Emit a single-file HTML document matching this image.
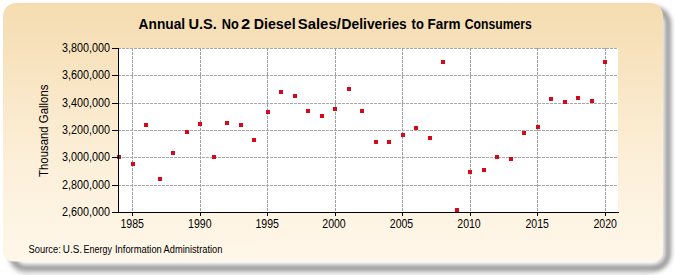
<!DOCTYPE html>
<html><head><meta charset="utf-8"><style>
html,body{margin:0;padding:0;background:#fff;width:675px;height:275px;overflow:hidden}
svg{display:block}
.t{font-family:"Liberation Sans",sans-serif;font-size:12px;fill:#000}
.title{font-family:"Liberation Sans",sans-serif;font-size:14.5px;font-weight:bold;fill:#000}
.src{font-family:"Liberation Sans",sans-serif;font-size:10px;fill:#000}
</style></head><body>
<svg width="675" height="275" viewBox="0 0 675 275">
<defs>
<linearGradient id="bg" x1="0" y1="0" x2="0" y2="1">
<stop offset="0" stop-color="#f5dcb0"/>
<stop offset="0.6" stop-color="#fcefd8"/>
<stop offset="1" stop-color="#fff7ea"/>
</linearGradient>
<filter id="sh" x="-10%" y="-10%" width="120%" height="130%">
<feGaussianBlur stdDeviation="2.5"/>
</filter>
<filter id="sh2" x="-10%" y="-10%" width="120%" height="130%"><feGaussianBlur stdDeviation="2"/></filter>
<filter id="soft" x="-2%" y="-2%" width="104%" height="104%"><feGaussianBlur stdDeviation="0.5"/></filter>
<clipPath id="pc"><rect x="119.5" y="48" width="499" height="164"/></clipPath>
</defs>
<rect x="12" y="14.5" width="648" height="258.5" rx="14" fill="none" stroke="#808080" stroke-width="4" opacity="0.2" filter="url(#sh2)"/>
<rect x="12" y="9.5" width="656" height="258.5" rx="14" fill="none" stroke="#808080" stroke-width="5" filter="url(#sh)"/>
<path d="M16,3 H650 A13,13 0 0 1 663,16 V251.5 A10,10 0 0 1 653,261.5 H13 A10,10 0 0 1 3,251.5 V16 A13,13 0 0 1 16,3 Z" fill="url(#bg)" filter="url(#soft)"/>
<text x="138.6" y="29" textLength="46.6" lengthAdjust="spacingAndGlyphs" class="title">Annual</text><text x="188.4" y="29" textLength="28.4" lengthAdjust="spacingAndGlyphs" class="title">U.S.</text><text x="221.8" y="29" textLength="17.0" lengthAdjust="spacingAndGlyphs" class="title">No</text><text x="241.0" y="29" textLength="9.2" lengthAdjust="spacingAndGlyphs" class="title">2</text><text x="253.8" y="29" textLength="41.8" lengthAdjust="spacingAndGlyphs" class="title">Diesel</text><text x="297.8" y="29" textLength="43.0" lengthAdjust="spacingAndGlyphs" class="title">Sales/</text><text x="341.6" y="29" textLength="65.2" lengthAdjust="spacingAndGlyphs" class="title">Deliveries</text><text x="411.6" y="29" textLength="12.2" lengthAdjust="spacingAndGlyphs" class="title">to</text><text x="427.4" y="29" textLength="33.0" lengthAdjust="spacingAndGlyphs" class="title">Farm</text><text x="464.8" y="29" textLength="67.0" lengthAdjust="spacingAndGlyphs" class="title">Consumers</text>
<text x="0" y="0" text-anchor="middle" class="t" transform="translate(47.6 130.8) rotate(-90) scale(0.95 1)">Thousand Gallons</text>
<rect x="119" y="48" width="499" height="164" fill="#fff"/><line x1="118" y1="48.5" x2="618" y2="48.5" stroke="#aaaaaa" stroke-width="1" stroke-dasharray="3,1"/><line x1="118" y1="75.5" x2="618" y2="75.5" stroke="#aaaaaa" stroke-width="1" stroke-dasharray="3,1"/><line x1="118" y1="103.5" x2="618" y2="103.5" stroke="#aaaaaa" stroke-width="1" stroke-dasharray="3,1"/><line x1="118" y1="130.5" x2="618" y2="130.5" stroke="#aaaaaa" stroke-width="1" stroke-dasharray="3,1"/><line x1="118" y1="157.5" x2="618" y2="157.5" stroke="#aaaaaa" stroke-width="1" stroke-dasharray="3,1"/><line x1="118" y1="185.5" x2="618" y2="185.5" stroke="#aaaaaa" stroke-width="1" stroke-dasharray="3,1"/><line x1="132.5" y1="48" x2="132.5" y2="212" stroke="#a0a0a0" stroke-width="1" stroke-dasharray="3,1"/><line x1="200.5" y1="48" x2="200.5" y2="212" stroke="#a0a0a0" stroke-width="1" stroke-dasharray="3,1"/><line x1="267.5" y1="48" x2="267.5" y2="212" stroke="#a0a0a0" stroke-width="1" stroke-dasharray="3,1"/><line x1="335.5" y1="48" x2="335.5" y2="212" stroke="#a0a0a0" stroke-width="1" stroke-dasharray="3,1"/><line x1="402.5" y1="48" x2="402.5" y2="212" stroke="#a0a0a0" stroke-width="1" stroke-dasharray="3,1"/><line x1="470.5" y1="48" x2="470.5" y2="212" stroke="#a0a0a0" stroke-width="1" stroke-dasharray="3,1"/><line x1="537.5" y1="48" x2="537.5" y2="212" stroke="#a0a0a0" stroke-width="1" stroke-dasharray="3,1"/><line x1="605.5" y1="48" x2="605.5" y2="212" stroke="#a0a0a0" stroke-width="1" stroke-dasharray="3,1"/><g><rect x="117" y="155" width="4" height="4" fill="#a01828"/><rect x="131" y="162" width="4" height="4" fill="#d40a1c"/><rect x="144" y="123" width="4" height="4" fill="#d40a1c"/><rect x="158" y="177" width="4" height="4" fill="#d40a1c"/><rect x="171" y="151" width="4" height="4" fill="#d40a1c"/><rect x="185" y="130" width="4" height="4" fill="#d40a1c"/><rect x="198" y="122" width="4" height="4" fill="#d40a1c"/><rect x="212" y="155" width="4" height="4" fill="#d40a1c"/><rect x="225" y="121" width="4" height="4" fill="#d40a1c"/><rect x="239" y="123" width="4" height="4" fill="#d40a1c"/><rect x="252" y="138" width="4" height="4" fill="#d40a1c"/><rect x="266" y="110" width="4" height="4" fill="#d40a1c"/><rect x="279" y="90" width="4" height="4" fill="#d40a1c"/><rect x="293" y="94" width="4" height="4" fill="#d40a1c"/><rect x="306" y="109" width="4" height="4" fill="#d40a1c"/><rect x="320" y="114" width="4" height="4" fill="#d40a1c"/><rect x="333" y="107" width="4" height="4" fill="#d40a1c"/><rect x="347" y="87" width="4" height="4" fill="#d40a1c"/><rect x="360" y="109" width="4" height="4" fill="#d40a1c"/><rect x="374" y="140" width="4" height="4" fill="#d40a1c"/><rect x="387" y="140" width="4" height="4" fill="#d40a1c"/><rect x="401" y="133" width="4" height="4" fill="#d40a1c"/><rect x="414" y="126" width="4" height="4" fill="#d40a1c"/><rect x="428" y="136" width="4" height="4" fill="#d40a1c"/><rect x="441" y="60" width="4" height="4" fill="#d40a1c"/><rect x="455" y="208" width="4" height="4" fill="#d40a1c"/><rect x="468" y="170" width="4" height="4" fill="#d40a1c"/><rect x="482" y="168" width="4" height="4" fill="#d40a1c"/><rect x="495" y="155" width="4" height="4" fill="#d40a1c"/><rect x="509" y="157" width="4" height="4" fill="#d40a1c"/><rect x="522" y="131" width="4" height="4" fill="#d40a1c"/><rect x="536" y="125" width="4" height="4" fill="#d40a1c"/><rect x="549" y="97" width="4" height="4" fill="#d40a1c"/><rect x="563" y="100" width="4" height="4" fill="#d40a1c"/><rect x="576" y="96" width="4" height="4" fill="#d40a1c"/><rect x="590" y="99" width="4" height="4" fill="#d40a1c"/><rect x="603" y="60" width="4" height="4" fill="#d40a1c"/></g><rect x="118" y="48" width="1" height="165" fill="#000"/><rect x="112" y="212" width="507" height="1" fill="#000"/><rect x="112" y="212" width="6" height="1" fill="#000"/><text x="0" y="0" text-anchor="end" class="t" transform="translate(110.1 216) scale(0.9 1)">2,600,000</text><rect x="112" y="185" width="6" height="1" fill="#000"/><text x="0" y="0" text-anchor="end" class="t" transform="translate(110.1 189) scale(0.9 1)">2,800,000</text><rect x="112" y="157" width="6" height="1" fill="#000"/><text x="0" y="0" text-anchor="end" class="t" transform="translate(110.1 161) scale(0.9 1)">3,000,000</text><rect x="112" y="130" width="6" height="1" fill="#000"/><text x="0" y="0" text-anchor="end" class="t" transform="translate(110.1 134) scale(0.9 1)">3,200,000</text><rect x="112" y="103" width="6" height="1" fill="#000"/><text x="0" y="0" text-anchor="end" class="t" transform="translate(110.1 107) scale(0.9 1)">3,400,000</text><rect x="112" y="75" width="6" height="1" fill="#000"/><text x="0" y="0" text-anchor="end" class="t" transform="translate(110.1 79) scale(0.9 1)">3,600,000</text><rect x="112" y="48" width="6" height="1" fill="#000"/><text x="0" y="0" text-anchor="end" class="t" transform="translate(110.1 52) scale(0.9 1)">3,800,000</text><rect x="132" y="213" width="1" height="3" fill="#000"/><text x="0" y="0" text-anchor="middle" class="t" transform="translate(132.2 227.9) scale(0.88 1)">1985</text><rect x="200" y="213" width="1" height="3" fill="#000"/><text x="0" y="0" text-anchor="middle" class="t" transform="translate(199.8 227.9) scale(0.88 1)">1990</text><rect x="267" y="213" width="1" height="3" fill="#000"/><text x="0" y="0" text-anchor="middle" class="t" transform="translate(267.2 227.9) scale(0.88 1)">1995</text><rect x="335" y="213" width="1" height="3" fill="#000"/><text x="0" y="0" text-anchor="middle" class="t" transform="translate(334.0 227.9) scale(0.88 1)">2000</text><rect x="402" y="213" width="1" height="3" fill="#000"/><text x="0" y="0" text-anchor="middle" class="t" transform="translate(401.5 227.9) scale(0.88 1)">2005</text><rect x="470" y="213" width="1" height="3" fill="#000"/><text x="0" y="0" text-anchor="middle" class="t" transform="translate(469.0 227.9) scale(0.88 1)">2010</text><rect x="537" y="213" width="1" height="3" fill="#000"/><text x="0" y="0" text-anchor="middle" class="t" transform="translate(537.2 227.9) scale(0.88 1)">2015</text><rect x="605" y="213" width="1" height="3" fill="#000"/><text x="0" y="0" text-anchor="middle" class="t" transform="translate(605.2 227.9) scale(0.88 1)">2020</text>
<text x="28.6" y="253" textLength="32.2" lengthAdjust="spacingAndGlyphs" class="src">Source:</text><text x="62.8" y="253" textLength="19.2" lengthAdjust="spacingAndGlyphs" class="src">U.S.</text><text x="83.6" y="253" textLength="28.4" lengthAdjust="spacingAndGlyphs" class="src">Energy</text><text x="115.0" y="253" textLength="46.8" lengthAdjust="spacingAndGlyphs" class="src">Information</text><text x="163.6" y="253" textLength="58.8" lengthAdjust="spacingAndGlyphs" class="src">Administration</text>
</svg>
</body></html>
